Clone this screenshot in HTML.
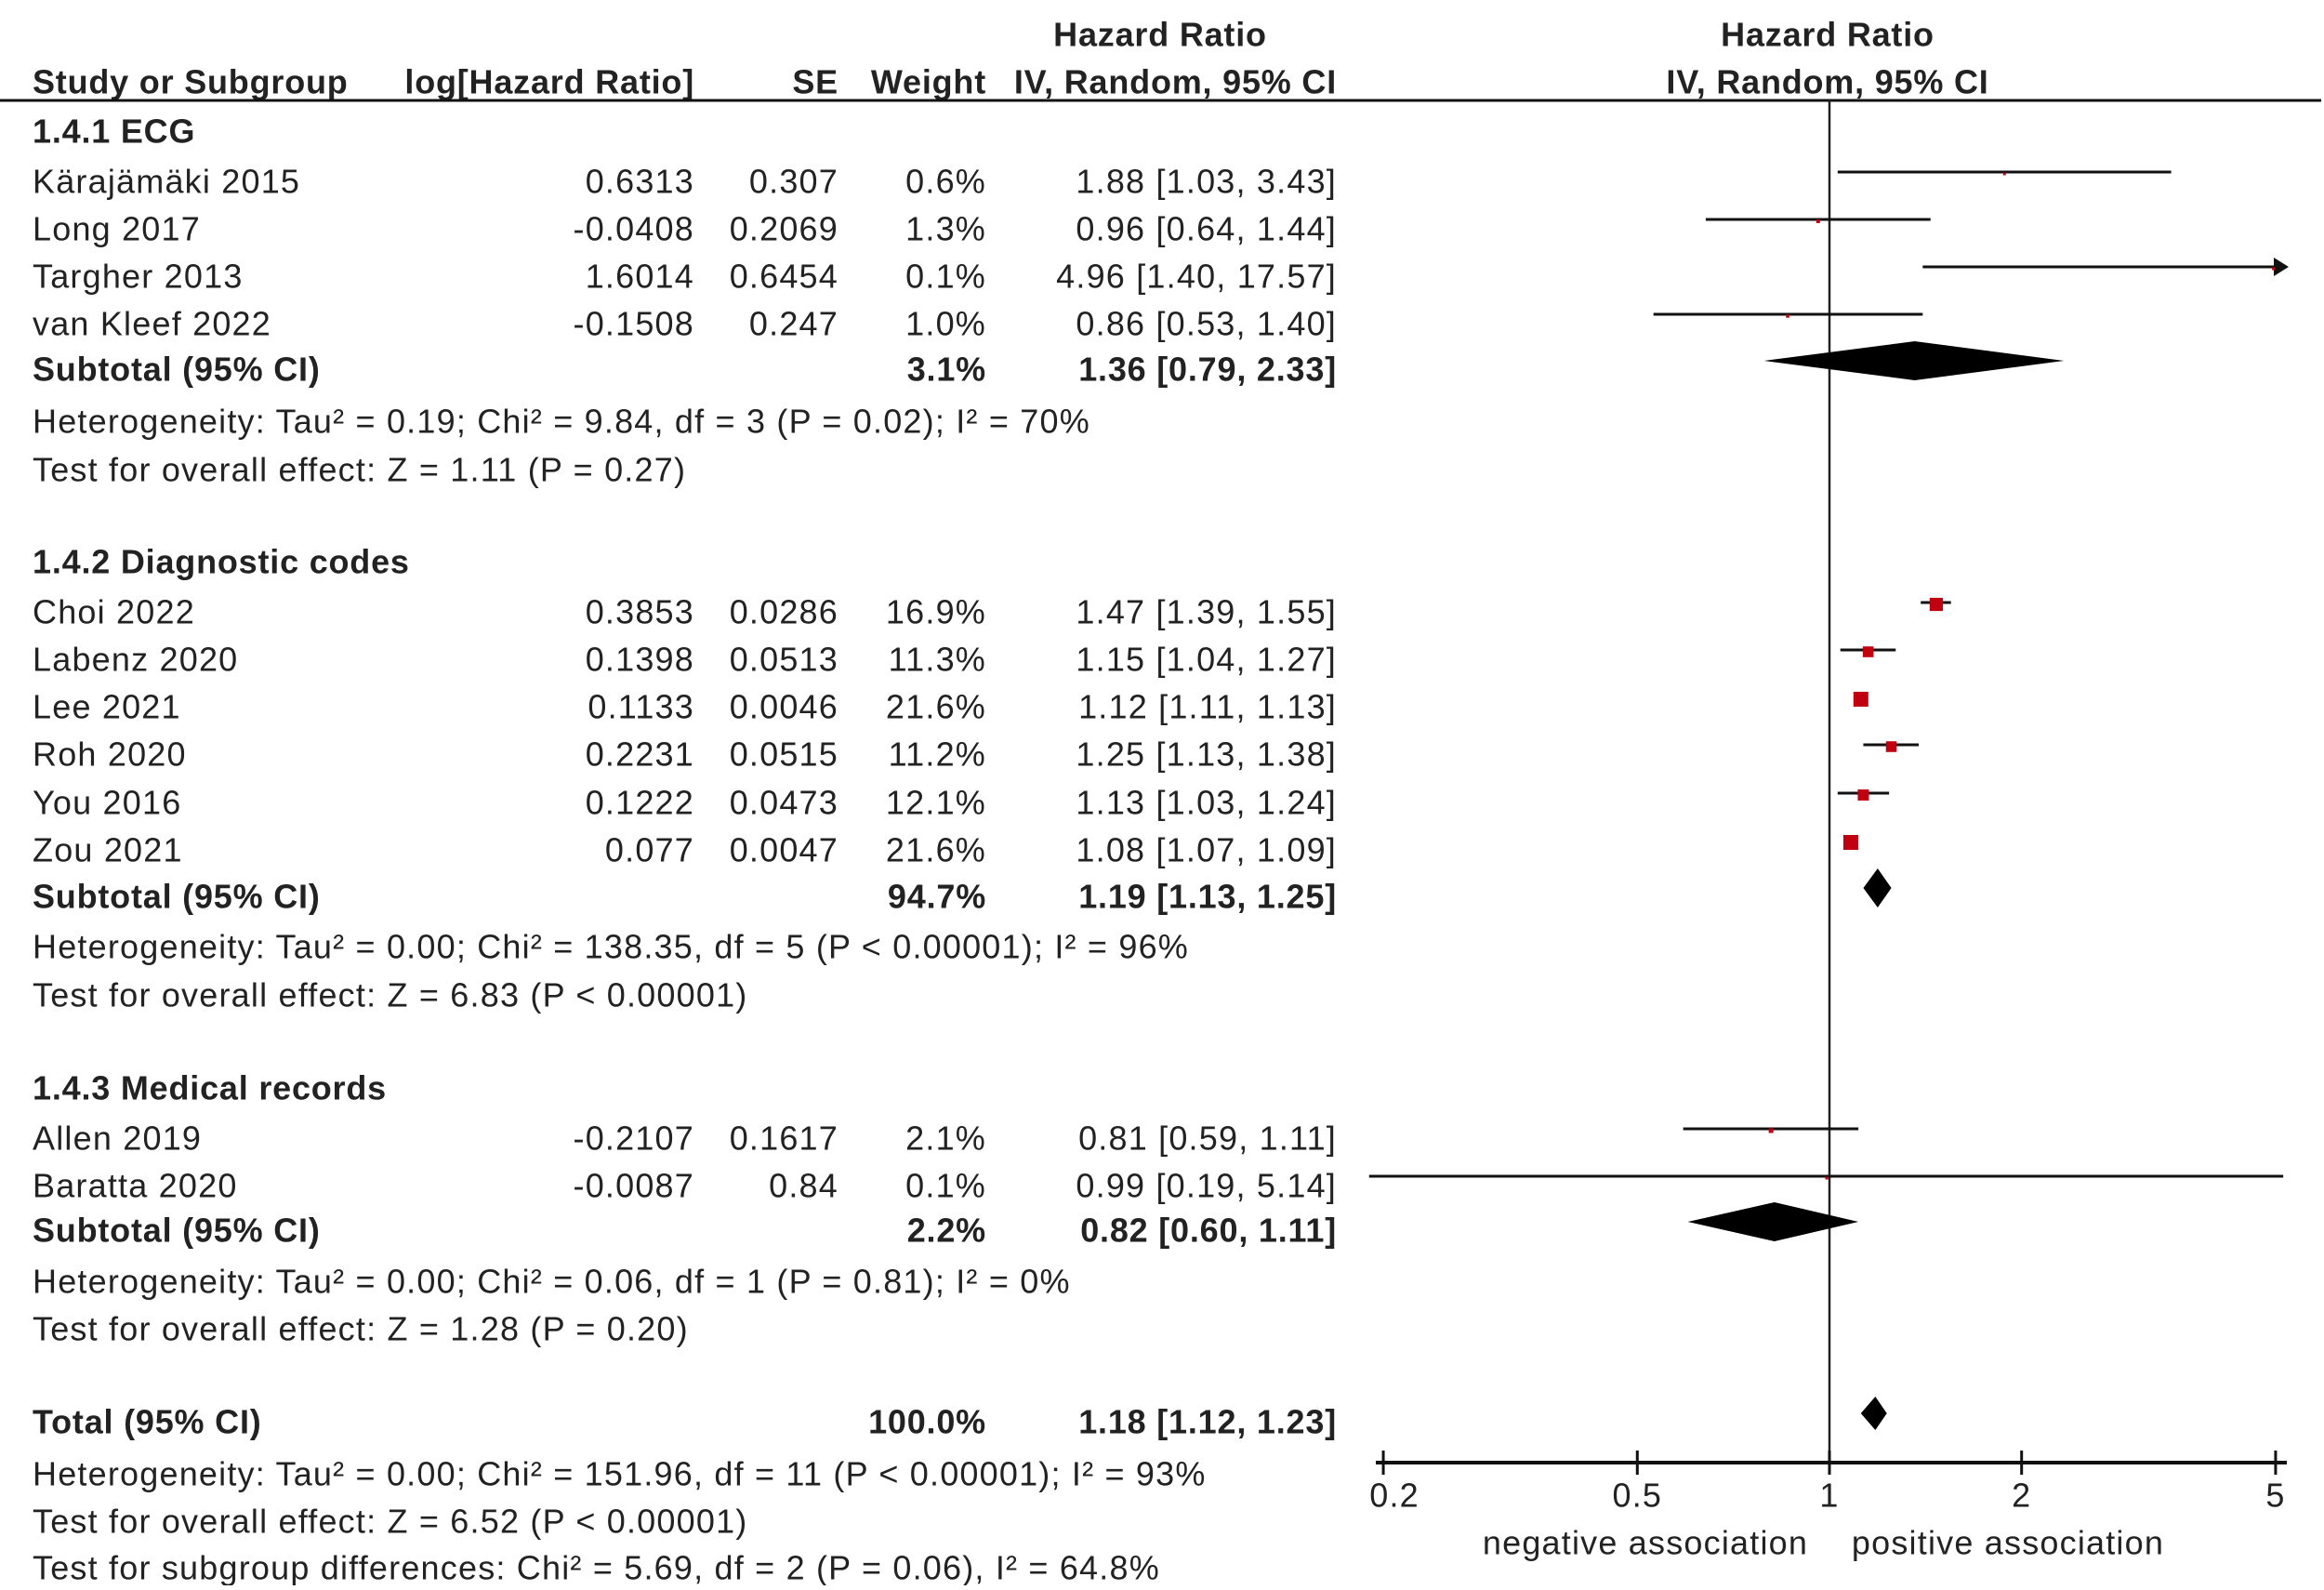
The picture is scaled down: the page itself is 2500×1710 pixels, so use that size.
<!DOCTYPE html>
<html><head><meta charset="utf-8"><style>
html,body{margin:0;padding:0;background:#fff;}
svg text{font-family:"Liberation Sans",Arial,sans-serif;font-size:36px;letter-spacing:1.2px;fill:#222;}
svg text.b{font-weight:bold;letter-spacing:0.8px;}
</style></head><body>
<svg id="plot" width="2500" height="1705" viewBox="0 0 2500 1705" xmlns="http://www.w3.org/2000/svg">
<g id="txt"></g><g id="marks"></g>
</svg>
<script>
const studies=["Kärajämäki 2015","Long 2017","Targher 2013","van Kleef 2022","Choi 2022","Labenz 2020","Lee 2021","Roh 2020","You 2016","Zou 2021","Allen 2019","Baratta 2020"];
const logHR=["0.6313","-0.0408","1.6014","-0.1508","0.3853","0.1398","0.1133","0.2231","0.1222","0.077","-0.2107","-0.0087"];
const seVals=["0.307","0.2069","0.6454","0.247","0.0286","0.0513","0.0046","0.0515","0.0473","0.0047","0.1617","0.84"];
const weights=[0.6,1.3,0.1,1.0,16.9,11.3,21.6,11.2,12.1,21.6,2.1,0.1];
const hr=[1.88,0.96,4.96,0.86,1.47,1.15,1.12,1.25,1.13,1.08,0.81,0.99];
const lo=[1.03,0.64,1.40,0.53,1.39,1.04,1.11,1.13,1.03,1.07,0.59,0.19];
const hi=[3.43,1.44,17.57,1.40,1.55,1.27,1.13,1.38,1.24,1.09,1.11,5.14];
const studyRowY=[195,246,297,348,658,709,760,811,863,914,1224,1275];
const subNames=["Subtotal (95% CI)","Subtotal (95% CI)","Subtotal (95% CI)","Total (95% CI)"];
const subW=["3.1%","94.7%","2.2%","100.0%"];
const subHR=[1.36,1.19,0.82,1.18];
const subLo=[0.79,1.13,0.60,1.12];
const subHi=[2.33,1.25,1.11,1.23];
const subY=[397,964,1323,1529];
const ticks=[0.2,0.5,1,2,5];
const NS="http://www.w3.org/2000/svg";
const T=document.getElementById('txt'),M=document.getElementById('marks');
const X0=1968,K=298.2,XMIN=1470,XMAX=2458;
function xs(v){return X0+K*Math.log(v);}
function el(tag,at,par){const e=document.createElementNS(NS,tag);for(const k in at)e.setAttribute(k,at[k]);(par||M).appendChild(e);return e;}
function tx(s,x,y,anchor,cls,name){const e=el('text',{x:x,y:y,'text-anchor':anchor||'start','dominant-baseline':'central'},T);if(cls)e.setAttribute('class',cls);e.textContent=s;


return e;}
const f2=v=>v.toFixed(2);
tx("Hazard Ratio",1248,37,'middle','b','header-hazard-ratio-left');
tx("Hazard Ratio",1966,37,'middle','b','header-hazard-ratio-right');
tx("Study or Subgroup",35,88,'start','b','header-study');
tx("log[Hazard Ratio]",747,88,'end','b','header-loghr');
tx("SE",902,88,'end','b','header-se');
tx("Weight",1061,88,'end','b','header-weight');
tx("IV, Random, 95% CI",1438,88,'end','b','header-ci-left');
tx("IV, Random, 95% CI",1966,88,'middle','b','header-ci-right');
let hl=el('line',{x1:0,y1:108,x2:2497,y2:108,stroke:'#111','stroke-width':3});


tx("1.4.1 ECG",35,141,'start','b','group-ecg');
tx("1.4.2 Diagnostic codes",35,604,'start','b','group-diagnostic-codes');
tx("1.4.3 Medical records",35,1170,'start','b','group-medical-records');
const notes=[["Heterogeneity: Tau² = 0.19; Chi² = 9.84, df = 3 (P = 0.02); I² = 70%",453],["Test for overall effect: Z = 1.11 (P = 0.27)",505],
["Heterogeneity: Tau² = 0.00; Chi² = 138.35, df = 5 (P < 0.00001); I² = 96%",1018],["Test for overall effect: Z = 6.83 (P < 0.00001)",1070],
["Heterogeneity: Tau² = 0.00; Chi² = 0.06, df = 1 (P = 0.81); I² = 0%",1378],["Test for overall effect: Z = 1.28 (P = 0.20)",1429],
["Heterogeneity: Tau² = 0.00; Chi² = 151.96, df = 11 (P < 0.00001); I² = 93%",1585],["Test for overall effect: Z = 6.52 (P < 0.00001)",1636],
["Test for subgroup differences: Chi² = 5.69, df = 2 (P = 0.06), I² = 64.8%",1686]];
notes.forEach((n,i)=>tx(n[0],35,n[1],'start','','note-'+i));
let vl=el('line',{x1:X0,y1:108,x2:X0,y2:1572,stroke:'#222','stroke-width':2.5});


studies.forEach((s,i)=>{
 const y=studyRowY[i];
 tx(s,35,y,'start','','study-name-'+i);
 tx(logHR[i],747,y,'end','','loghr-'+i);
 tx(seVals[i],902,y,'end','','se-'+i);
 tx(weights[i].toFixed(1)+'%',1061,y,'end','','weight-'+i);
 tx(f2(hr[i])+' ['+f2(lo[i])+', '+f2(hi[i])+']',1438,y,'end','','ci-text-'+i);
 const ly=y-10;
 const x1=Math.max(XMIN,xs(lo[i])),x2=Math.min(XMAX,xs(hi[i]));
 const ln=el('line',{x1:x1,y1:ly,x2:x2,y2:ly,stroke:'#111','stroke-width':3});
 
 
 if(xs(hi[i])>XMAX){const a=el('polygon',{points:(XMAX+4)+','+ly+' '+(XMAX-12)+','+(ly-10)+' '+(XMAX-12)+','+(ly+10),fill:'#111'});
 
 }
 const sz=Math.max(3,3.45*Math.sqrt(weights[i]));
 const r=el('rect',{x:xs(hr[i])-sz/2,y:ly-sz/2+2,width:sz,height:sz,fill:'#c00010'});
 
 
});
subNames.forEach((s,i)=>{
 const y=subY[i];
 tx(s,35,y,'start','b','subtotal-label-'+i);
 tx(subW[i],1061,y,'end','b','subtotal-weight-'+i);
 tx(f2(subHR[i])+' ['+f2(subLo[i])+', '+f2(subHi[i])+']',1438,y,'end','b','subtotal-ci-'+i);
 const cy=y-9,h=i==3?18:21;
 const d=el('polygon',{points:xs(subLo[i])+','+cy+' '+xs(subHR[i])+','+(cy-h)+' '+xs(subHi[i])+','+cy+' '+xs(subHR[i])+','+(cy+h),fill:'#000'});
 
 
});
let ax=el('line',{x1:1480,y1:1573,x2:2460,y2:1573,stroke:'#111','stroke-width':4});


ticks.forEach((t,i)=>{
 const tk=el('line',{x1:xs(t),y1:1560,x2:xs(t),y2:1586,stroke:'#111','stroke-width':3});
 
 
 tx(String(t),xs(t)+(i==0?12:0),1608,'middle','','x-tick-label-'+i);
});
tx("negative association",1770,1659,'middle','','label-negative-association');
tx("positive association",2160,1659,'middle','','label-positive-association');
</script>
</body></html>
